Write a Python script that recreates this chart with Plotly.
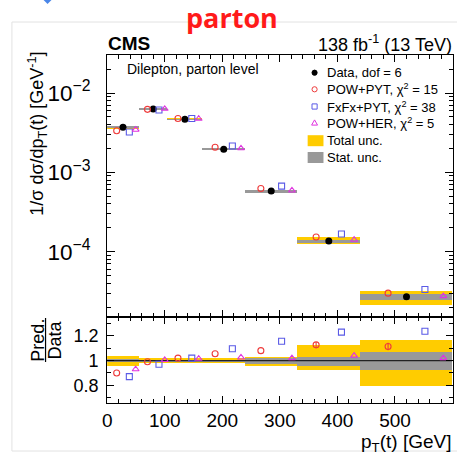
import plotly.graph_objects as go

# ---- binning and measured values ----
bin_edges = [0, 55, 105, 165, 240, 330, 440, 600]
data_xsec = [3.71e-3, 6.29e-3, 4.67e-3, 1.96e-3, 5.8e-4, 1.36e-4, 2.7e-5]

# relative uncertainties of the measurement
total_up = [0.038, 0.020, 0.020, 0.020, 0.030, 0.127, 0.170]
total_dn = [0.041, 0.020, 0.020, 0.023, 0.045, 0.073, 0.205]
stat_up = [0.010, 0.006, 0.006, 0.007, 0.023, 0.030, 0.073]
stat_dn = [0.010, 0.006, 0.006, 0.007, 0.028, 0.040, 0.080]

# prediction / data ratios
ratio_powpyt = [0.90, 0.99, 1.02, 1.055, 1.08, 1.127, 1.113]
ratio_powpyt_err = [0.0, 0.0, 0.0, 0.0, 0.0, 0.022, 0.030]
ratio_fxfx = [0.87, 0.97, 1.02, 1.095, 1.156, 1.23, 1.237]
ratio_powher = [0.93, 1.005, 1.015, 1.025, 1.02, 1.04, 1.02]

x_ticks = [0, 100, 200, 300, 400, 500]

legend_labels = ["Data, dof = 6", "POW+PYT, \u03c7<sup>2</sup> = 15",
                 "FxFx+PYT, \u03c7<sup>2</sup> = 38", "POW+HER, \u03c7<sup>2</sup> = 5",
                 "Total unc.", "Stat. unc."]

# ---- styling ----
W, H = 457, 455
FONT = "Liberation Sans, Arial, Helvetica, sans-serif"
YELLOW = "#ffcc00"
GREY = "#999999"
RED = "#ee3b3b"
BLUE = "#5a5ae6"
MAGENTA = "#e033e0"


def px(x):
    return x / W


def py(y):
    return 1 - y / H


lo = bin_edges[:-1]
hi = bin_edges[1:]
centers = [(a + b) / 2 for a, b in zip(lo, hi)]
widths = [b - a for a, b in zip(lo, hi)]


def shifted(frac):
    return [a + frac * (b - a) for a, b in zip(lo, hi)]


pred_powpyt = [r * d for r, d in zip(ratio_powpyt, data_xsec)]
pred_fxfx = [r * d for r, d in zip(ratio_fxfx, data_xsec)]
pred_powher = [r * d for r, d in zip(ratio_powher, data_xsec)]

fig = go.Figure()

# ---- upper panel: bands ----
fig.add_trace(go.Bar(
    x=centers, width=widths,
    base=[d * (1 - dn) for d, dn in zip(data_xsec, total_dn)],
    y=[d * (u + dn) for d, u, dn in zip(data_xsec, total_up, total_dn)],
    marker=dict(color=YELLOW, line=dict(width=0)),
    xaxis="x", yaxis="y", showlegend=False, hoverinfo="skip"))
fig.add_trace(go.Bar(
    x=centers, width=widths,
    base=[d * (1 - dn) for d, dn in zip(data_xsec, stat_dn)],
    y=[d * (u + dn) for d, u, dn in zip(data_xsec, stat_up, stat_dn)],
    marker=dict(color=GREY, line=dict(width=0)),
    xaxis="x", yaxis="y", showlegend=False, hoverinfo="skip"))

# ---- upper panel: markers ----
fig.add_trace(go.Scatter(x=centers, y=data_xsec, mode="markers",
                         marker=dict(symbol="circle", size=7, color="black"),
                         xaxis="x", yaxis="y", showlegend=False))
fig.add_trace(go.Scatter(x=shifted(0.3), y=pred_powpyt, mode="markers",
                         marker=dict(symbol="circle-open", size=6, color=RED, line=dict(width=1.1)),
                         xaxis="x", yaxis="y", showlegend=False))
fig.add_trace(go.Scatter(x=shifted(0.7), y=pred_fxfx, mode="markers",
                         marker=dict(symbol="square-open", size=6, color=BLUE, line=dict(width=1.1)),
                         xaxis="x", yaxis="y", showlegend=False))
fig.add_trace(go.Scatter(x=shifted(0.9), y=pred_powher, mode="markers",
                         marker=dict(symbol="triangle-up-open", size=6, color=MAGENTA, line=dict(width=1.1)),
                         xaxis="x", yaxis="y", showlegend=False))

# ---- ratio panel ----
fig.add_trace(go.Bar(
    x=centers, width=widths,
    base=[1 - dn for dn in total_dn],
    y=[u + dn for u, dn in zip(total_up, total_dn)],
    marker=dict(color=YELLOW, line=dict(width=0)),
    xaxis="x2", yaxis="y2", showlegend=False, hoverinfo="skip"))
fig.add_trace(go.Bar(
    x=centers, width=widths,
    base=[1 - dn for dn in stat_dn],
    y=[u + dn for u, dn in zip(stat_up, stat_dn)],
    marker=dict(color=GREY, line=dict(width=0)),
    xaxis="x2", yaxis="y2", showlegend=False, hoverinfo="skip"))
fig.add_trace(go.Scatter(x=[bin_edges[0], bin_edges[-1]], y=[1, 1], mode="lines",
                         line=dict(color="#222222", width=1.2),
                         xaxis="x2", yaxis="y2", showlegend=False, hoverinfo="skip"))
fig.add_trace(go.Scatter(x=shifted(0.3), y=ratio_powpyt, mode="markers",
                         marker=dict(symbol="circle-open", size=6, color=RED, line=dict(width=1.1)),
                         error_y=dict(type="data", array=ratio_powpyt_err, color=RED,
                                      thickness=1.1, width=0),
                         xaxis="x2", yaxis="y2", showlegend=False))
fig.add_trace(go.Scatter(x=shifted(0.7), y=ratio_fxfx, mode="markers",
                         marker=dict(symbol="square-open", size=6, color=BLUE, line=dict(width=1.1)),
                         xaxis="x2", yaxis="y2", showlegend=False))
fig.add_trace(go.Scatter(x=shifted(0.9), y=ratio_powher, mode="markers",
                         marker=dict(symbol="triangle-up-open", size=6, color=MAGENTA, line=dict(width=1.1)),
                         xaxis="x2", yaxis="y2", showlegend=False))

# ---- axes ----
X0, X1 = 103.3, 452.5
TOP0, TOP1 = 55, 317
RAT1 = 403

common_x = dict(range=[bin_edges[0], bin_edges[-1]], domain=[px(X0), px(X1)],
                showline=True, linecolor="black", linewidth=1, mirror="ticks",
                ticks="inside", ticklen=7, tickcolor="black", tickwidth=1,
                tickvals=x_ticks, showgrid=False, zeroline=False,
                minor=dict(ticks="inside", ticklen=4, dtick=20, tickcolor="black", showgrid=False))

fig.update_layout(
    width=W, height=H,
    margin=dict(l=0, r=0, t=0, b=0),
    paper_bgcolor="white", plot_bgcolor="white",
    barmode="overlay", bargap=0,
    showlegend=False,
    font=dict(family=FONT, color="black"),
    xaxis=dict(common_x, anchor="y", showticklabels=False),
    xaxis2=dict(common_x, anchor="y2", matches="x", showticklabels=True,
                tickfont=dict(size=19, family=FONT)),
    yaxis=dict(type="log", range=[-4.823, -1.521], domain=[py(TOP1), py(TOP0)],
               anchor="x", showline=True, linecolor="black", linewidth=1, mirror="ticks",
               ticks="inside", ticklen=8, tickcolor="black", dtick=1,
               exponentformat="power", showexponent="all",
               tickfont=dict(size=18, family=FONT), ticklabelstandoff=12,
               showgrid=False, zeroline=False,
               minor=dict(ticks="inside", ticklen=4, dtick="D1", tickcolor="black", showgrid=False)),
    yaxis2=dict(range=[0.657, 1.352], domain=[py(RAT1), py(TOP1)], anchor="x2",
                showline=True, linecolor="black", linewidth=1, mirror="ticks",
                ticks="inside", ticklen=7, tickcolor="black",
                tickvals=[0.8, 1.0, 1.2], ticktext=["0.8", "1", "1.2"],
                tickfont=dict(size=18, family=FONT), ticklabelstandoff=4,
                showgrid=False, zeroline=False,
                minor=dict(ticks="inside", ticklen=4, dtick=0.1, tick0=0, tickcolor="black", showgrid=False)),
)

ann = []


def text(x, y, s, size, xanchor="left", yanchor="middle", angle=0, color="black", family=FONT):
    ann.append(dict(x=px(x), y=py(y), xref="paper", yref="paper", text=s, showarrow=False,
                    xanchor=xanchor, yanchor=yanchor, textangle=angle,
                    font=dict(size=size, color=color, family=family)))


text(230, 18, "<b>parton</b>", 27, xanchor="center", color="#ff1a1a", family="Open Sans, sans-serif")
text(X0 - 1, 44, "<b>CMS</b>", 19)
text(X1 + 1, 44, "138 fb<sup>-1</sup> (13 TeV)", 18, xanchor="right")
text(121, 69, "Dilepton, parton level", 14)

leg_y = [72.7, 89.3, 106.5, 122.7, 140.7, 157.5]
for yy, lab in zip(leg_y, legend_labels):
    text(324, yy, lab, 13)

# axis titles
text(32, 50, "1/\u03c3 d\u03c3/dp<sub>T</sub>(t) [GeV<sup>-1</sup>]", 18,
     xanchor="center", yanchor="top", angle=-90)
text(X1 + 1, 443, "p<sub>T</sub>(t) [GeV]", 19, xanchor="right")
text(33, 340, "Pred.", 18, xanchor="center", angle=-90)
text(51, 340, "Data", 18, xanchor="center", angle=-90)

fig.update_layout(annotations=ann)

shapes = []
# outer frame of the panel image
shapes.append(dict(type="rect", xref="paper", yref="paper",
                   x0=px(7), x1=px(470), y0=py(451), y1=py(22),
                   line=dict(color="#e2e2e2", width=1), fillcolor="rgba(0,0,0,0)", layer="below"))
# small blue corner glyph
shapes.append(dict(type="path", xref="paper", yref="paper",
                   path=f"M {px(39)},{py(0)} L {px(47)},{py(0)} L {px(43)},{py(4)} Z",
                   fillcolor="#4a86e8", line=dict(width=0)))
# fraction bar of the ratio title
shapes.append(dict(type="line", xref="paper", yref="paper",
                   x0=px(41), x1=px(41), y0=py(318), y1=py(362),
                   line=dict(color="black", width=1.2)))

# legend symbols
mx = 313
r = 2.6
shapes.append(dict(type="circle", xref="paper", yref="paper",
                   x0=px(mx - r), x1=px(mx + r), y0=py(leg_y[0] + r), y1=py(leg_y[0] - r),
                   fillcolor="black", line=dict(color="black", width=1)))
shapes.append(dict(type="circle", xref="paper", yref="paper",
                   x0=px(mx - r), x1=px(mx + r), y0=py(leg_y[1] + r), y1=py(leg_y[1] - r),
                   fillcolor="rgba(0,0,0,0)", line=dict(color=RED, width=1)))
shapes.append(dict(type="rect", xref="paper", yref="paper",
                   x0=px(mx - r), x1=px(mx + r), y0=py(leg_y[2] + r), y1=py(leg_y[2] - r),
                   fillcolor="rgba(0,0,0,0)", line=dict(color=BLUE, width=1)))
shapes.append(dict(type="path", xref="paper", yref="paper",
                   path=(f"M {px(mx - 3)},{py(leg_y[3] + 2.4)} L {px(mx + 3)},{py(leg_y[3] + 2.4)} "
                         f"L {px(mx)},{py(leg_y[3] - 2.8)} Z"),
                   fillcolor="rgba(0,0,0,0)", line=dict(color=MAGENTA, width=1)))
shapes.append(dict(type="rect", xref="paper", yref="paper",
                   x0=px(306), x1=px(322), y0=py(leg_y[4] + 5.5), y1=py(leg_y[4] - 5.5),
                   fillcolor=YELLOW, line=dict(width=0)))
shapes.append(dict(type="rect", xref="paper", yref="paper",
                   x0=px(306), x1=px(322), y0=py(leg_y[5] + 5.5), y1=py(leg_y[5] - 5.5),
                   fillcolor=GREY, line=dict(width=0)))

fig.update_layout(shapes=shapes)

fig.write_html("out.html")
